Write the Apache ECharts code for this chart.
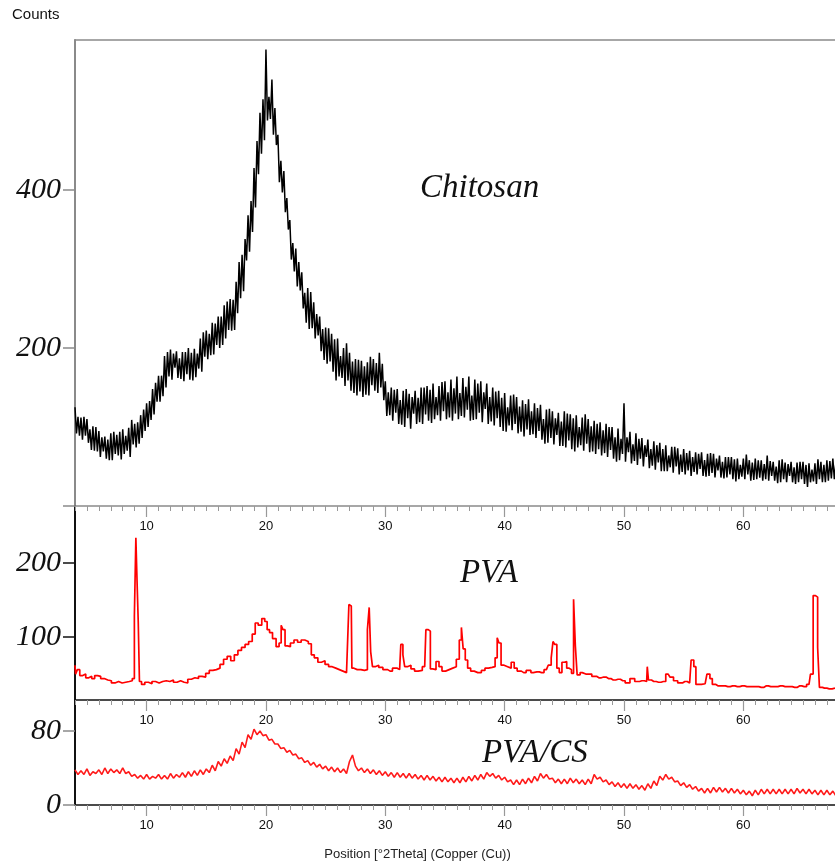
<!DOCTYPE html>
<html><head><meta charset="utf-8">
<script src="https://cdn.jsdelivr.net/npm/echarts@6/dist/echarts.min.js"></script>
<style>html,body{margin:0;padding:0;background:#fff}#c{width:835px;height:864px}</style>
</head><body><div id="c"></div>
<script>
// ---- data ----
const xTickLabels = [10, 20, 30, 40, 50, 60];
const xRange = [4, 67.68];
const chitosanYTicks = [200, 400];
const pvaYTicks = [100, 200];
const pvacsYTicks = [0, 80];

// Chitosan counts: four noisy readings inside every 0.5 deg block starting at 4.0
// (offsets 0, 0.125, 0.25, 0.375 deg)
const chitosanStart = 4, sampleStep = 0.5;
const chitosanCounts0 = [125,112,110,101,95,88,92,90,97,99,104,115,130,148,165,190,198,196,195,200,199,212,222,232,240,254,262,284,318,368,428,498,578,540,470,424,362,326,296,276,258,240,226,218,212,200,194,186,184,182,186,194,158,150,148,146,142,146,150,152,155,152,158,160,164,162,164,160,158,155,150,146,143,140,138,134,135,130,128,122,120,118,120,116,115,112,110,108,106,104,100,98,130,94,92,86,84,82,80,77,75,73,72,70,68,68,66,66,64,62,62,60,60,58,60,58,64,56,58,55,56,55,56,54,54,56,58,60];
const chitosanCounts1 = [92,84,80,70,62,60,58,64,66,62,74,86,100,116,132,150,160,162,158,160,163,170,186,192,200,212,222,244,272,322,378,446,488,470,410,372,312,278,250,224,212,196,180,170,164,152,146,140,138,140,146,150,114,108,104,100,98,104,104,108,110,108,110,108,110,112,108,110,106,104,102,100,94,96,92,88,90,86,84,80,78,76,74,72,74,70,68,66,64,62,60,58,56,54,52,50,48,46,44,44,42,40,40,38,40,38,38,36,36,36,34,34,34,32,34,32,32,32,30,30,30,30,28,30,28,30,32,34];
const chitosanCounts2 = [113,113,97,100,87,84,94,94,89,109,106,122,133,156,165,195,193,187,195,194,193,220,218,231,240,259,261,309,338,386,462,515,518,504,437,390,333,309,270,271,243,224,225,211,190,206,183,185,177,189,181,180,144,147,134,148,138,137,150,147,138,157,144,149,143,151,140,155,144,138,145,137,125,141,126,129,120,124,110,123,111,107,117,111,100,116,101,104,96,100,87,85,87,78,85,77,72,77,72,64,75,65,67,62,66,58,67,60,56,62,59,52,65,55,58,53,57,50,59,53,49,56,52,46,59,52,57,54];
const chitosanCounts3 = [89,89,71,69,69,58,66,59,70,78,79,95,109,132,139,164,175,161,167,159,174,189,191,204,204,223,223,263,311,347,420,463,490,457,397,350,297,273,232,225,216,185,183,159,162,159,143,145,141,153,143,134,115,118,103,111,117,106,116,105,115,120,112,117,114,122,109,118,123,107,111,95,102,104,94,97,91,95,79,86,90,76,83,69,77,79,69,72,67,71,56,66,68,57,60,62,51,55,44,49,50,43,45,43,47,37,42,45,35,40,31,37,40,33,36,34,38,29,34,38,28,34,24,31,34,30,35,35];

// PVA pattern (angle, counts)
const pvaAngle = [4.0,4.1,4.3,4.5,4.8,5.0,5.3,5.5,5.8,6.0,6.3,6.6,6.9,7.2,7.5,7.8,8.1,8.4,8.7,8.9,9.05,9.15,9.25,9.35,9.45,9.7,10.0,10.3,10.6,10.9,11.2,11.5,11.8,12.1,12.4,12.7,13.0,13.3,13.6,13.9,14.2,14.5,14.8,15.1,15.4,15.7,16.0,16.3,16.6,16.9,17.2,17.5,17.8,18.1,18.4,18.7,19.0,19.2,19.5,19.8,20.0,20.2,20.4,20.7,21.0,21.2,21.35,21.5,21.7,21.9,22.2,22.5,22.8,23.1,23.4,23.7,23.9,24.2,24.5,24.8,25.1,25.4,25.7,26.0,26.3,26.6,26.9,27.0,27.15,27.25,27.5,27.8,28.1,28.4,28.6,28.7,28.85,29.0,29.3,29.6,30.0,30.4,30.8,31.2,31.4,31.55,31.7,32.0,32.3,32.6,32.9,33.3,33.5,33.7,33.85,34.1,34.4,34.6,34.9,35.2,35.5,35.8,36.1,36.3,36.45,36.6,36.8,37.0,37.3,37.6,37.9,38.2,38.5,38.8,39.1,39.3,39.45,39.6,39.8,40.1,40.4,40.7,40.9,41.2,41.6,42.0,42.4,42.7,43.1,43.5,43.8,44.0,44.1,44.3,44.45,44.7,44.9,45.1,45.3,45.5,45.7,45.85,46.0,46.15,46.5,46.8,47.1,47.5,47.9,48.3,48.7,49.1,49.5,49.9,50.3,50.7,51.1,51.5,51.9,52.0,52.1,52.5,52.9,53.3,53.7,54.0,54.3,54.7,55.1,55.5,55.75,55.95,56.1,56.5,56.8,57.1,57.3,57.5,57.9,58.3,58.7,59.1,59.5,59.9,60.3,60.7,61.1,61.5,61.9,62.3,62.7,63.1,63.5,63.9,64.3,64.7,65.1,65.5,65.75,65.95,66.15,66.3,66.45,66.8,67.2,67.68];
const pvaCounts = [62,50,56,48,50,45,47,44,48,47,44,42,41,38,40,38,39,40,41,44,128,234,175,120,40,36,39,37,40,38,40,41,40,42,39,41,39,38,43,45,44,47,46,51,55,56,58,63,70,74,68,76,82,86,90,94,104,119,116,125,121,110,106,98,87,92,116,110,88,87,92,96,93,96,94,91,76,72,66,68,63,60,58,56,54,52,52,144,142,58,56,56,55,56,110,140,80,60,62,59,56,54,58,56,90,76,60,62,57,54,55,60,110,108,57,56,67,60,54,56,58,60,70,96,113,84,69,58,54,52,52,55,58,59,60,72,99,92,62,60,58,66,58,54,52,55,52,53,52,56,62,72,94,90,58,52,66,67,58,56,51,151,88,49,52,50,50,47,45,46,44,42,43,41,38,44,40,41,40,60,42,40,39,40,50,46,41,38,40,38,69,60,36,36,37,50,44,36,34,34,33,34,33,34,33,33,33,32,34,33,33,34,33,33,32,34,33,36,50,156,154,86,32,31,30,31];

// PVA/CS counts sampled every 0.5 deg starting at 4.0 (A) and at 4.25 (B)
const pvacsCountsA = [38,37,39,36,38,40,39,38,40,36,33,32,33,31,33,32,34,33,35,36,37,38,39,43,47,50,53,61,68,76,82,80,76,71,66,62,59,55,51,48,46,44,42,41,40,39,47,42,40,39,38,37,36,35,35,34,34,33,32,32,31,30,30,29,29,30,31,32,33,35,34,32,30,27,27,28,29,31,34,33,29,28,28,29,28,27,28,33,30,27,25,24,23,23,22,21,23,26,31,33,30,26,24,22,20,18,18,19,19,18,18,17,16,15,16,17,17,17,17,17,17,18,17,17,16,16,16,15];
const pvacsCountsB = [33,33,32,34,33,34,35,34,34,31,29,28,28,29,28,28,29,30,30,31,32,33,35,37,42,45,48,55,62,71,76,75,70,66,61,57,54,50,46,43,41,39,37,36,35,34,54,37,35,34,33,32,31,30,30,29,29,28,27,27,26,25,25,24,24,25,26,27,28,31,29,27,25,22,22,23,24,26,29,28,24,23,23,24,23,22,23,28,25,22,20,19,18,18,17,16,18,21,27,28,25,21,19,17,15,13,13,14,14,13,13,12,11,10,11,12,12,12,12,12,12,13,12,12,11,11,11,10];

// ---- build ----
function interleave(arrays, start, step) {
  const out = [], k = arrays.length;
  for (let i = 0; i < arrays[0].length; i++) {
    for (let j = 0; j < k; j++) out.push([start + i * step + j * step / k, arrays[j][i]]);
  }
  return out;
}
const chitosanData = interleave([chitosanCounts0, chitosanCounts1, chitosanCounts2, chitosanCounts3], chitosanStart, sampleStep);
const pvacsData = interleave([pvacsCountsA, pvacsCountsB], chitosanStart, sampleStep);
const pvaData = pvaAngle.map((a, i) => [a, pvaCounts[i]]);

const minorTicks = [];
for (let v = Math.ceil(xRange[0]); v <= Math.floor(xRange[1]); v++) if (v % 10) minorTicks.push(v);

const LEFT = 75, W = 761;
const grids = [
  {left: LEFT, top: 40, width: W, height: 466},
  {left: LEFT, top: 506, width: W, height: 194},
  {left: LEFT, top: 700, width: W, height: 105}
];
const axisCol = ['#8a8a8a', '#111', '#111'];

const xAxes = [];
grids.forEach((g, gi) => {
  xAxes.push({
    type: 'value', gridIndex: gi, position: 'bottom', min: xRange[0], max: xRange[1],
    axisLine: {show: true, lineStyle: {color: axisCol[gi], width: gi ? 1.6 : 1.5}},
    axisTick: {show: true, customValues: minorTicks, length: 5, lineStyle: {color: '#999', width: 1}},
    axisLabel: {show: true, customValues: xTickLabels, margin: 14, fontFamily: 'Liberation Sans', fontSize: 13, color: '#111'},
    splitLine: {show: false}
  });
  xAxes.push({
    type: 'value', gridIndex: gi, position: 'bottom', min: xRange[0], max: xRange[1],
    axisLine: {show: false},
    axisTick: {show: true, customValues: xTickLabels, length: 11, lineStyle: {color: '#999', width: 1.2}},
    axisLabel: {show: false}, splitLine: {show: false}
  });
});
// top border of the upper panel
xAxes.push({
  type: 'value', gridIndex: 0, position: 'top', min: xRange[0], max: xRange[1],
  axisLine: {show: true, lineStyle: {color: '#8a8a8a', width: 1.5}},
  axisTick: {show: false}, axisLabel: {show: false}, splitLine: {show: false}
});

const yLabelStyle = {fontFamily: 'Liberation Serif', fontStyle: 'italic', fontSize: 30, color: '#111', margin: 14};
const yAxes = [
  {type: 'value', gridIndex: 0, min: 0, max: 590,
   axisLine: {show: true, lineStyle: {color: '#8a8a8a', width: 2}},
   axisTick: {show: true, customValues: [0].concat(chitosanYTicks), length: 12, lineStyle: {color: '#8a8a8a', width: 1.5}},
   axisLabel: Object.assign({customValues: chitosanYTicks}, yLabelStyle), splitLine: {show: false}},
  {type: 'value', gridIndex: 1, min: 15, max: 277,
   axisLine: {show: true, lineStyle: {color: '#111', width: 2}},
   axisTick: {show: true, customValues: pvaYTicks, length: 12, lineStyle: {color: '#111', width: 1.5}},
   axisLabel: Object.assign({customValues: pvaYTicks}, yLabelStyle), splitLine: {show: false}},
  {type: 'value', gridIndex: 2, min: 0, max: 113.5,
   axisLine: {show: true, lineStyle: {color: '#111', width: 2}},
   axisTick: {show: true, customValues: pvacsYTicks, length: 12, lineStyle: {color: '#8a8a8a', width: 1.5}},
   axisLabel: Object.assign({customValues: pvacsYTicks}, yLabelStyle), splitLine: {show: false}}
];

const chart = echarts.init(document.getElementById('c'), null, {renderer: 'canvas'});
chart.setOption({
  animation: false,
  backgroundColor: '#fff',
  grid: grids,
  xAxis: xAxes,
  yAxis: yAxes,
  series: [
    {type: 'line', xAxisIndex: 0, yAxisIndex: 0, data: chitosanData, symbol: 'none',
     lineStyle: {color: '#000', width: 1.5}, silent: true, clip: true},
    {type: 'line', xAxisIndex: 2, yAxisIndex: 1, data: pvaData, symbol: 'none', step: 'middle',
     lineStyle: {color: '#ff0000', width: 1.7}, silent: true, clip: true},
    {type: 'line', xAxisIndex: 4, yAxisIndex: 2, data: pvacsData, symbol: 'none',
     lineStyle: {color: '#ff1a1a', width: 1.6}, silent: true, clip: true}
  ],
  graphic: [
    {type: 'text', left: 12, top: 7, style: {text: 'Counts', font: "15px 'Liberation Sans'", fill: '#111'}},
    {type: 'text', left: 420, top: 172, style: {text: 'Chitosan', font: "italic 33px 'Liberation Serif'", fill: '#111'}},
    {type: 'text', left: 460, top: 557, style: {text: 'PVA', font: "italic 33px 'Liberation Serif'", fill: '#111'}},
    {type: 'text', left: 482, top: 737, style: {text: 'PVA/CS', font: "italic 33px 'Liberation Serif'", fill: '#111'}},
    {type: 'text', left: 'center', top: 848, style: {text: 'Position [°2Theta] (Copper (Cu))', font: "13px 'Liberation Sans'", fill: '#222'}}
  ]
});
</script></body></html>
